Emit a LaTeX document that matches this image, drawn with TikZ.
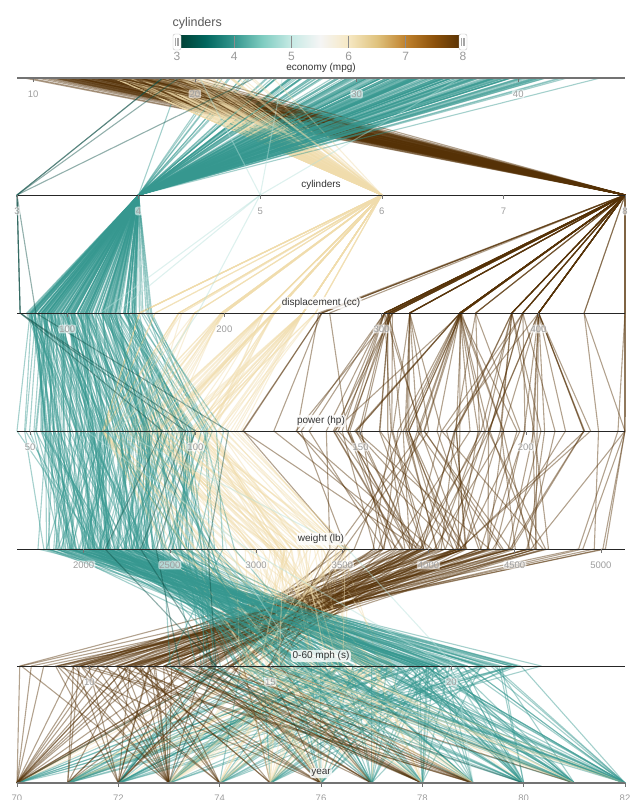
\documentclass[tikz,border=0pt]{standalone}
\usepackage{fontspec}
\setmainfont{Liberation Sans}
\definecolor{brA}{HTML}{003C30}
\definecolor{brB}{HTML}{01665E}
\definecolor{brC}{HTML}{35978F}
\definecolor{brD}{HTML}{80CDC1}
\definecolor{brE}{HTML}{C7EAE5}
\definecolor{brF}{HTML}{F5F5F5}
\definecolor{brG}{HTML}{F6E8C3}
\definecolor{brH}{HTML}{DFC27D}
\definecolor{brI}{HTML}{BF812D}
\definecolor{brJ}{HTML}{8C510A}
\definecolor{brK}{HTML}{543005}
\definecolor{cylthree}{HTML}{0E4F46}
\definecolor{cylfour}{HTML}{35978F}
\definecolor{cylfive}{HTML}{B5E0DA}
\definecolor{cylsix}{HTML}{F0DCAC}
\definecolor{cyleight}{HTML}{543005}
\pgfdeclarehorizontalshading{cylbar}{100bp}{color(0bp)=(brA); color(25bp)=(brA); color(30bp)=(brB);
  color(35bp)=(brC); color(40bp)=(brD); color(45bp)=(brE); color(50bp)=(brF); color(55bp)=(brG);
  color(60bp)=(brH); color(65bp)=(brI); color(70bp)=(brJ); color(75bp)=(brK); color(100bp)=(brK)}
\tikzset{
  carline/.style={line width=1.1pt,draw opacity=0.45,line join=round},
  axisline/.style={draw=black!85,line width=1pt},
  endaxis/.style={draw=black!55,line width=2pt},
  tickmark/.style={draw=black!55,line width=0.6pt},
  ticklab/.style={text=black!38,fill=white,fill opacity=0.6,text opacity=1,rounded corners=2pt,
    inner sep=1pt,font=\fontsize{9.5}{11}\selectfont},
  axistitle/.style={text=black!80,fill=white,fill opacity=0.8,text opacity=1,rounded corners=3pt,
    inner sep=1.5pt,font=\fontsize{10}{12}\selectfont}
}
% one car: mpg, cylinders, displacement, power, weight, 0-60, year
\newcommand\drawcar[1]{%
  \draw[carline,draw=#1]({17+(\mpg-9)*16.17},78)--({17+(\cyl-3)*121.6},195)
    --({17+(\dsp-68)*1.571},313)--({17+(\hp-46)*3.304},431)
    --({17+(\wt-1613)*0.17239},549)--({17+(\acc-8)*36.19},666)
    --({17+(\yr-70)*50.667},783);}
\newcommand\carfour{%
  \def\cyl{4}%
  \pgfmathsetmacro\sz{pow(rnd,1.3)}%
  \pgfmathsetmacro\dsp{max(68,min(156,80+72*\sz+8*rand))}%
  \pgfmathsetmacro\hp{max(46,min(115,0.6*\dsp+10+11*rand))}%
  \pgfmathsetmacro\wt{max(1613,min(3270,1150+10*\dsp+220*rand))}%
  \pgfmathsetmacro\acc{max(11.6,min(24.8,16.6+(85-\hp)*0.1+2.6*rand))}%
  \pgfmathsetmacro\mpg{max(18,min(46.6,58-0.0115*\wt+1.0*(\yr-76)+3.5*rand))}%
  \drawcar{cylfour}}
\newcommand\careight{%
  \def\cyl{8}%
  \pgfmathtruncatemacro\pick{30*rnd}%
  \pgfmathsetmacro\dsp{{260,262,267,302,302,302,304,305,305,307,307,318,318,318,318,350,350,350,350,350,351,351,360,383,390,400,400,400,429,455}[\pick]}%
  \pgfmathsetmacro\hp{max(90,min(230,0.5*\dsp+18*rand-2.5*(\yr-74)))}%
  \pgfmathsetmacro\wt{max(3000,min(5140,2000+6*\dsp+400*rand))}%
  \pgfmathsetmacro\acc{max(8,min(22,21.5-0.055*\hp+1.5*rand))}%
  \pgfmathsetmacro\mpg{max(9,min(26.6,25.5-0.032*\dsp+0.5*(\yr-73)+1.5*rand))}%
  \drawcar{cyleight}}
\newcommand\carsix{%
  \def\cyl{6}%
  \pgfmathtruncatemacro\pick{24*rnd}%
  \pgfmathsetmacro\dsp{{146,156,168,171,173,181,198,199,200,200,225,225,225,225,231,231,232,232,250,250,250,250,258,258}[\pick]}%
  \pgfmathsetmacro\hp{max(72,min(165,0.38*\dsp+8+12*rand))}%
  \pgfmathsetmacro\wt{max(2472,min(3907,1450+7.5*\dsp+220*rand))}%
  \pgfmathsetmacro\acc{max(11.3,min(21,16.3+2.3*rand))}%
  \pgfmathsetmacro\mpg{max(15,min(38,27-0.04*\dsp+0.6*(\yr-76)+2*rand))}%
  \drawcar{cylsix}}
\begin{document}
\begin{tikzpicture}[x=1pt,y=-1pt]
\useasboundingbox (0,0) rectangle (640,800);
\pgfmathsetseed{4711}
% model year / cars / share of 8 and of 6 cylinders
\foreach \yr/\n/\pe/\ps in {70/29/0.62/0.14,71/28/0.25/0.29,72/27/0.48/0.02,73/39/0.51/0.21,
    74/27/0.19/0.26,75/30/0.17/0.40,76/34/0.26/0.29,77/27/0.30/0.19,78/35/0.17/0.34,
    79/28/0.36/0.21,80/27/0.01/0.08,81/29/0.04/0.24,82/31/0.01/0.10}
{
    \foreach \i in {1,...,\n}
    {
        \pgfmathsetmacro\grp{rnd}
        \ifdim\grp pt<\pe pt\relax\careight\else
            \pgfmathsetmacro\lim{\pe+\ps}
            \ifdim\grp pt<\lim pt\relax\carsix\else\carfour\fi
        \fi
    }
}
\foreach \mpg/\cyl/\dsp/\hp/\wt/\acc/\yr/\col in {18/3/70/90/2124/13.5/73/cylthree,
    19/3/70/97/2330/13.5/72/cylthree,18/3/80/110/2720/13.5/77/cylthree,23.7/3/70/100/2420/12.5/80/cylthree,
    20.3/5/131/103/2830/15.9/78/cylfive,25.4/5/183/77/3530/20.1/79/cylfive,36.4/5/121/67/2950/19.9/80/cylfive}
{
    \drawcar{\col}
}
% axes
\foreach \yy in {195,313,431,549,666}
    \draw[axisline](17,\yy)--(625,\yy);
\foreach \yy in {78,783}
    \draw[endaxis](17,\yy)--(625,\yy);
\foreach \v in {10,20,30,40}
{
    \draw[tickmark]({17+(\v-9)*16.17},78)--++(0,4);
    \node[ticklab] at ({17+(\v-9)*16.17},94) {\v};
}
\foreach \v in {3,...,8}
{
    \draw[tickmark]({17+(\v-3)*121.6},195)--++(0,4);
    \node[ticklab] at ({17+(\v-3)*121.6},211) {\v};
}
\foreach \v in {100,200,300,400}
{
    \draw[tickmark]({17+(\v-68)*1.571},313)--++(0,4);
    \node[ticklab] at ({17+(\v-68)*1.571},329) {\v};
}
\foreach \v in {50,100,150,200}
{
    \draw[tickmark]({17+(\v-46)*3.304},431)--++(0,4);
    \node[ticklab] at ({17+(\v-46)*3.304},447) {\v};
}
\foreach \v in {2000,2500,...,5000}
{
    \draw[tickmark]({17+(\v-1613)*0.17239},549)--++(0,4);
    \node[ticklab] at ({17+(\v-1613)*0.17239},565) {\v};
}
\foreach \v in {10,15,20}
{
    \draw[tickmark]({17+(\v-8)*36.19},666)--++(0,4);
    \node[ticklab] at ({17+(\v-8)*36.19},682) {\v};
}
\foreach \v in {70,72,...,82}
{
    \draw[tickmark]({17+(\v-70)*50.667},783)--++(0,4);
    \node[ticklab] at ({17+(\v-70)*50.667},798) {\v};
}
\node[axistitle] (tmpg) at (321,68) {economy (mpg)};
\node[axistitle] (tcyl) at (321,185) {cylinders};
\node[axistitle] (tdsp) at (321,303) {displacement (cc)};
\node[axistitle] (thp) at (321,421) {power (hp)};
\node[axistitle] (twt) at (321,539) {weight (lb)};
\node[axistitle] (tacc) at (321,656) {0-60 mph (s)};
\node[axistitle] (tyr) at (321,773) {year};
% legend
\node[anchor=west,text=black!65,font=\fontsize{12.5}{14}\selectfont] (legtitle) at (169,23) {cylinders};
\shade[shading=cylbar](177,36)rectangle(463,48);
\foreach \c in {4,5,6,7}
    \draw[black!45,line width=1pt]({177+(\c-3)*57.2},36)--++(0,12);
\foreach \c in {3,...,8}
    \node[text=black!40,font=\fontsize{12}{14}\selectfont] at ({177+(\c-3)*57.2},56) {\c};
\foreach \hx in {177,463}
{
    \draw[black!25,fill=white,rounded corners=2pt](\hx-4,34)rectangle(\hx+4,50);
    \foreach \d in {-1.5,0,1.5}
        \draw[black!35,line width=0.4pt](\hx+\d,38)--(\hx+\d,46);
}
\end{tikzpicture}
\end{document}
